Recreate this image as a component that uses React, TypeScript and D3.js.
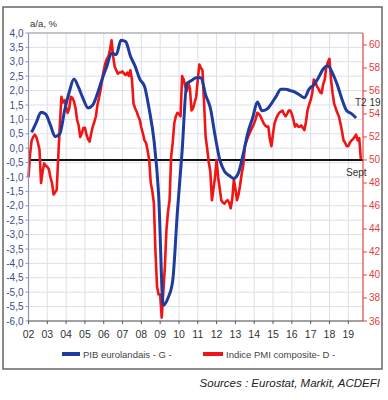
import * as d3 from "d3";

// x labels, one per year (Jan of each year)
const yearLabels = ["02", "03", "04", "05", "06", "07", "08", "09", "10", "11", "12", "13", "14", "15", "16", "17", "18", "19"];

// left axis (PIB, a/a %) and right axis (PMI) ticks
const leftTicks = d3.range(-6, 4.001, 0.5);
const rightTicks = [36, 38, 40, 42, 44, 46, 48, 50, 52, 54, 56, 58, 60];

// PIB eurolandais, quarterly, 2002 T1 -> 2019 T2
const pibValues = [
  0.55, 0.9, 1.25, 1.18, // 2002
  0.8, 0.4, 0.5, 1.3, // 2003
  1.95, 2.4, 2.1, 1.7, // 2004
  1.4, 1.5, 1.9, 2.4, // 2005
  2.85, 3.3, 3.25, 3.75, // 2006
  3.7, 3.2, 2.85, 2.4, // 2007
  2.15, 1.35, 0.3, -1.6, // 2008
  -5.45, -5.2, -4.6, -2.2, // 2009
  -0.1, 2.25, 2.35, 2.45, // 2010
  2.45, 1.85, 1.4, 0.45, // 2011
  -0.4, -0.8, -0.95, -1.05, // 2012
  -0.85, -0.2, 0.55, 1.05, // 2013
  1.6, 1.3, 1.35, 1.55, // 2014
  1.8, 2.05, 2.05, 2.0, // 2015
  1.95, 1.85, 1.75, 2.05, // 2016
  2.2, 2.45, 2.75, 2.85, // 2017
  2.6, 2.2, 1.7, 1.3, // 2018
  1.2, 1.05, // 2019
];

// Indice PMI composite, monthly, Jan 2002 -> Sept 2019
const pmiValues = [
  48.5, 50.5, 51.7, 52.0, 52.2, 52.0, 51.5, 50.9, 48.0, 49.0, 49.7, 49.5, // 2002
  49.4, 49.2, 48.5, 48.0, 47.0, 47.2, 47.4, 50.3, 53.0, 55.5, 55.0, 55.2, // 2003
  54.6, 54.1, 54.5, 55.5, 55.4, 55.1, 54.5, 53.5, 53.0, 52.0, 52.3, 52.8, // 2004
  52.8, 52.2, 51.8, 51.6, 52.3, 52.9, 53.3, 53.8, 54.8, 55.4, 56.1, 57.0, // 2005
  57.8, 58.4, 58.8, 59.0, 59.6, 60.4, 59.0, 58.1, 57.8, 57.5, 57.6, 57.6, // 2006
  57.7, 57.5, 57.4, 57.6, 57.3, 57.8, 57.0, 54.9, 54.5, 54.2, 53.8, 53.5, // 2007
  52.8, 52.3, 51.7, 51.5, 50.8, 50.0, 48.0, 47.3, 46.2, 42.0, 39.0, 38.3, // 2008
  38.3, 36.3, 38.5, 40.7, 43.9, 45.5, 46.5, 50.3, 51.5, 53.2, 53.8, 54.1, // 2009
  54.0, 53.8, 57.3, 57.0, 56.4, 56.0, 56.7, 56.2, 54.3, 54.5, 55.0, 55.5, // 2010
  57.0, 58.3, 58.0, 57.8, 55.0, 52.0, 51.0, 49.8, 49.0, 46.5, 47.5, 48.5, // 2011
  50.0, 48.5, 47.5, 46.5, 46.3, 46.2, 46.4, 46.5, 46.3, 45.8, 46.6, 48.3, // 2012
  47.5, 46.5, 47.0, 47.8, 48.8, 49.5, 51.2, 51.6, 52.0, 52.3, 52.6, 52.9, // 2013
  53.2, 53.6, 54.1, 54.0, 53.8, 53.5, 53.2, 53.0, 52.9, 52.9, 51.8, 51.2, // 2014
  52.3, 53.2, 53.6, 53.9, 54.1, 54.2, 54.3, 54.0, 53.8, 54.0, 54.3, 54.3, // 2015
  54.0, 53.5, 52.9, 53.1, 52.9, 52.9, 53.0, 52.8, 52.6, 53.3, 54.3, 54.8, // 2016
  55.2, 55.8, 57.0, 56.8, 56.4, 56.2, 55.9, 55.8, 56.6, 57.0, 58.1, 58.5, // 2017
  58.8, 57.0, 55.8, 54.9, 54.5, 54.1, 53.8, 53.2, 52.5, 51.7, 51.5, 51.2, // 2018
  51.2, 51.5, 51.7, 51.8, 52.0, 52.2, 51.7, 51.9, 50.1, // 2019
];

const FONT = "'Liberation Sans Narrow', 'Liberation Sans', Arial, sans-serif";
const BLUE = "#1e3c9c";
const RED = "#f01515";

export default function App() {
  const left = 28.5, right = 363, top = 33, bottom = 321;

  // x in months since Jan 2002
  const x = d3.scaleLinear().domain([0, 213.4]).range([left, right]);
  const yL = d3.scaleLinear().domain([-6, 4]).range([bottom, top]);
  const yR = d3.scaleLinear().domain([36, 61.04]).range([bottom, top]);

  const pibLine = d3
    .line<number>()
    .x((_, i) => x(i * 3 + 2))
    .y((d) => yL(d))
    .curve(d3.curveMonotoneX);
  const pmiLine = d3
    .line<number>()
    .x((_, i) => x(i))
    .y((d) => yR(d));

  const fmt = (v: number) => d3.format(".1f")(v).replace(".", ",").replace("−", "-");

  return (
    <svg width={388} height={400} style={{ position: "absolute", left: 0, top: 0, background: "#fff" }}>
      {/* outer frame */}
      <rect x={3} y={7} width={379} height={362} fill="#fff" stroke="#666" strokeWidth={1.5} />

      {/* grid */}
      {leftTicks.map((t) => (
        <line key={"h" + t} x1={left} x2={right} y1={yL(t)} y2={yL(t)} stroke="#dcdfe8" strokeWidth={1} />
      ))}
      {yearLabels.map((_, k) => (
        <line key={"v" + k} x1={x(k * 12)} x2={x(k * 12)} y1={top} y2={bottom} stroke="#dcdfe8" strokeWidth={1} />
      ))}
      <line x1={left} x2={right} y1={top} y2={top} stroke="#9a9a9a" strokeWidth={1} />

      {/* PMI 50 line */}
      <line x1={left} x2={right} y1={yR(50)} y2={yR(50)} stroke="#111" strokeWidth={2} />

      {/* series */}
      <path d={pmiLine(pmiValues) ?? ""} fill="none" stroke={RED} strokeWidth={2.6} strokeLinejoin="round" />
      <path d={pibLine(pibValues) ?? ""} fill="none" stroke={BLUE} strokeWidth={3} strokeLinejoin="round" />

      {/* left axis */}
      <line x1={left} x2={left} y1={top} y2={bottom} stroke="#8a96c0" strokeWidth={1.2} />
      {leftTicks.map((t) => (
        <g key={"l" + t}>
          <line x1={left - 3} x2={left} y1={yL(t)} y2={yL(t)} stroke="#8a96c0" />
          <text x={left - 5} y={yL(t) + 3.5} textAnchor="end" fontSize={10} fontFamily={FONT} fill="#3d4d8e">
            {fmt(t)}
          </text>
        </g>
      ))}
      <text x={30} y={27} fontSize={9.5} fontFamily={FONT} fill="#333">a/a, %</text>

      {/* right axis */}
      <line x1={right} x2={right} y1={top} y2={bottom} stroke="#e84040" strokeWidth={1.2} />
      {rightTicks.map((t) => (
        <g key={"r" + t}>
          <line x1={right} x2={right + 4} y1={yR(t)} y2={yR(t)} stroke="#e84040" />
          <text x={right + 6} y={yR(t) + 3.5} fontSize={10} fontFamily={FONT} fill="#e63a3a">
            {t}
          </text>
        </g>
      ))}

      {/* bottom axis */}
      <line x1={left} x2={right} y1={bottom} y2={bottom} stroke="#555" strokeWidth={1.2} />
      {yearLabels.map((lab, k) => (
        <g key={"x" + lab}>
          <line x1={x(k * 12)} x2={x(k * 12)} y1={bottom} y2={bottom + 3} stroke="#555" />
          <text x={x(k * 12)} y={bottom + 17} textAnchor="middle" fontSize={10.5} fontFamily={FONT} fill="#333">
            {lab}
          </text>
        </g>
      ))}

      {/* annotations */}
      <text x={355} y={106} fontSize={10} fontFamily={FONT} fill="#333">T2 19</text>
      <text x={346} y={176} fontSize={10} fontFamily={FONT} fill="#333">Sept</text>

      {/* legend */}
      <line x1={62} x2={80} y1={354} y2={354} stroke={BLUE} strokeWidth={4} />
      <text x={83} y={357.5} fontSize={9.5} fontFamily={FONT} fill="#444">PIB eurolandais - G -</text>
      <line x1={203} x2={223} y1={354} y2={354} stroke={RED} strokeWidth={4} />
      <text x={226} y={357.5} fontSize={9.5} fontFamily={FONT} fill="#444">Indice PMI composite- D -</text>

      {/* source */}
      <text x={380} y={387} textAnchor="end" fontSize={11.5} fontStyle="italic" fontFamily="'Liberation Sans', Arial, sans-serif" fill="#222">
        Sources : Eurostat, Markit, ACDEFI
      </text>
    </svg>
  );
}
